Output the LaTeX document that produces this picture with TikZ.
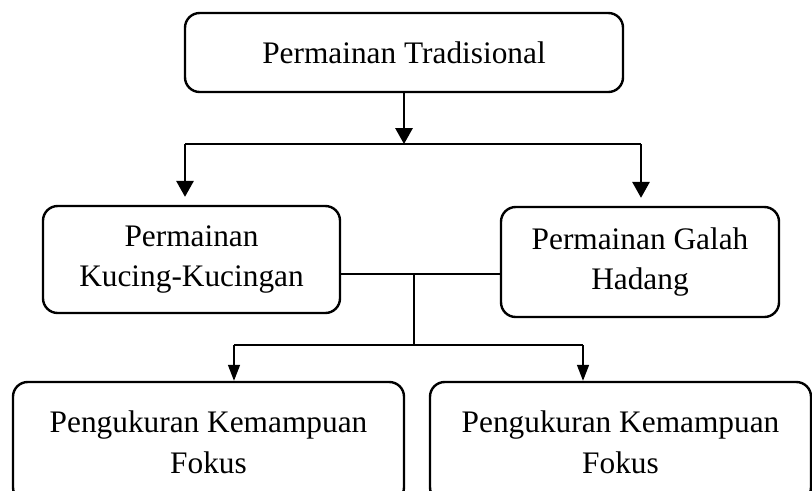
\documentclass[tikz,border=0pt]{standalone}
\usepackage{fontspec}
\setmainfont{Liberation Serif}
\usetikzlibrary{arrows.meta}

\begin{document}
\begin{tikzpicture}[x=0.75pt, y=-0.75pt,
  box/.style = {draw, rounded corners=11pt, line width=1.8pt, align=center, inner sep=0pt, font=\fontsize{23.5}{30.5}\selectfont},
  tip/.style = {-{Triangle[length=12pt,width=13pt]}, line width=1.6pt},
  thintip/.style = {-{Triangle[length=12pt,width=9pt]}, line width=1.1pt},
  link/.style = {line width=1pt}]
  \clip (0,0) rectangle (812,490);
  \node[box, minimum width=328.5pt, minimum height=59.25pt] (1) at (404,52.5) {Permainan Tradisional};
  \node[box, minimum width=222.75pt, minimum height=80.25pt] (2) at (191.5,259.5) {Permainan\\Kucing-Kucingan};
  \node[box, minimum width=208.5pt, minimum height=82.5pt] (3) at (640,262) {Permainan Galah\\Hadang};
  \node[box, minimum width=293.25pt, minimum height=90pt] (4) at (208.5,442) {Pengukuran Kemampuan\\Fokus};
  \node[box, minimum width=285.75pt, minimum height=90pt] (5) at (620.5,442) {Pengukuran Kemampuan\\Fokus};
  \coordinate (a) at (185,144);
  \coordinate (b) at (641,144);
  \coordinate (m) at (414,274);
  \coordinate (c) at (414,345);
  \coordinate (d) at (234,345);
  \coordinate (e) at (583,345);
  \draw[tip] (1.south) -- (1.south |- a);
  \draw[link] (a) -- (b);
  \draw[tip, shorten >=6pt] (a) -- (a |- 2.north);
  \draw[tip, shorten >=6pt] (b) -- (b |- 3.north);
  \draw[link] (2.east |- m) -- (3.west |- m);
  \draw[link] (m) -- (c);
  \draw[link] (d) -- (e);
  \draw[thintip] (d) -- (d |- 4.north);
  \draw[thintip] (e) -- (e |- 5.north);
\end{tikzpicture}
\end{document}
